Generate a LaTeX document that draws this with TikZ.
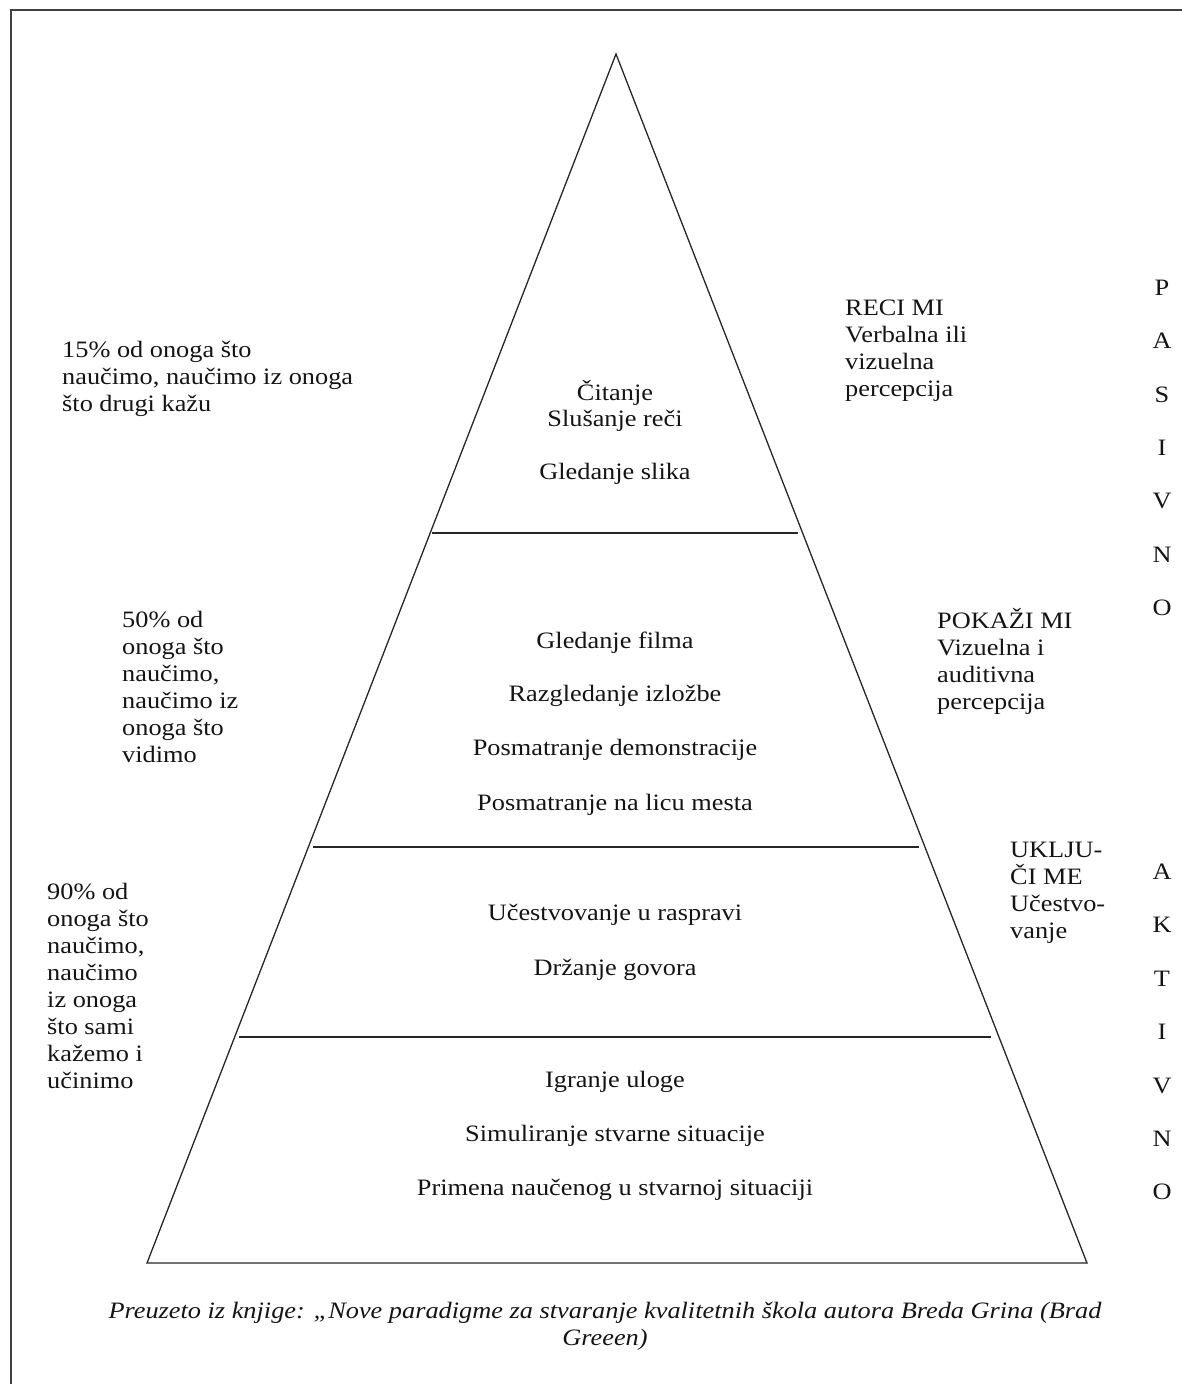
\documentclass[tikz,border=0pt]{standalone}
\usepackage{fontspec}
\setmainfont{Liberation Serif}[FakeStretch=1.12]
\begin{document}
\begin{tikzpicture}[x=1pt,y=-1pt,
  font=\fontsize{23.5}{27}\selectfont, text=black!92,
  frame/.style={line width=2pt, draw=black!75},
  edge/.style={line width=1.3pt, draw=black!85, line join=miter},
  ctr/.style={inner sep=0pt},
  blk/.style={inner sep=0pt, align=left, anchor=north west},
  vert/.style={inner sep=0pt, align=center, font=\fontsize{23.5}{53.4}\selectfont},
  captext/.style={inner sep=0pt, align=center, font=\fontsize{23.5}{27}\selectfont\itshape}]
\useasboundingbox (0,0) rectangle (1182,1384);
% frame (top and left only visible)
\coordinate (ftl) at (11,10);
\coordinate (ftr) at (1182,10);
\coordinate (fbl) at (11,1384);
\draw[frame] (ftr) -- (ftl) -- (fbl);
% pyramid
\coordinate (apex) at (616,54);
\coordinate (bl) at (147,1263);
\coordinate (br) at (1087,1263);
\draw[edge] (apex) -- (bl) -- (br) -- cycle;
\coordinate (d1l) at (432,533);  \coordinate (d1r) at (798,533);
\coordinate (d2l) at (313,847);  \coordinate (d2r) at (919,847);
\coordinate (d3l) at (239,1037); \coordinate (d3r) at (991,1037);
\draw[edge] (d1l) -- (d1r);
\draw[edge] (d2l) -- (d2r);
\draw[edge] (d3l) -- (d3r);
% centre texts
\node[ctr] (c1) at (615,393) {Čitanje};
\node[ctr] (c2) at (615,421) {Slušanje reči};
\node[ctr] (c3) at (615,474) {Gledanje slika};
\node[ctr] (c4) at (615,643) {Gledanje filma};
\node[ctr] (c5) at (615,696) {Razgledanje izložbe};
\node[ctr] (c6) at (615,750) {Posmatranje demonstracije};
\node[ctr] (c7) at (615,805) {Posmatranje na licu mesta};
\node[ctr] (c8) at (615,915) {Učestvovanje u raspravi};
\node[ctr] (c9) at (615,970) {Držanje govora};
\node[ctr] (c10) at (615,1082) {Igranje uloge};
\node[ctr] (c11) at (615,1136) {Simuliranje stvarne situacije};
\node[ctr] (c12) at (615,1190) {Primena naučenog u stvarnoj situaciji};
% left texts
\node[blk] (l1) at (62,341) {15\% od onoga što\\naučimo, naučimo iz onoga\\što drugi kažu};
\node[blk] (l2) at (122,611) {50\% od\\onoga što\\naučimo,\\naučimo iz\\onoga što\\vidimo};
\node[blk] (l3) at (47,883) {90\% od\\onoga što\\naučimo,\\naučimo\\iz onoga\\što sami\\kažemo i\\učinimo};
% right texts
\node[blk] (r1) at (845,300) {RECI MI\\Verbalna ili\\vizuelna\\percepcija};
\node[blk] (r2) at (937,608) {POKAŽI MI\\Vizuelna i\\auditivna\\percepcija};
\node[blk] (r3) at (1010,842) {UKLJU-\\ČI ME\\Učestvo-\\vanje};
% vertical words
\node[vert] (pas) at (1162,448) {P\\A\\S\\I\\V\\N\\O};
\node[vert] (akt) at (1162,1032) {A\\K\\T\\I\\V\\N\\O};
% caption
\node[captext] (caption) at (605,1326) {Preuzeto iz knjige: „Nove paradigme za stvaranje kvalitetnih škola autora Breda Grina (Brad\\Greeen)};
\end{tikzpicture}
\end{document}
